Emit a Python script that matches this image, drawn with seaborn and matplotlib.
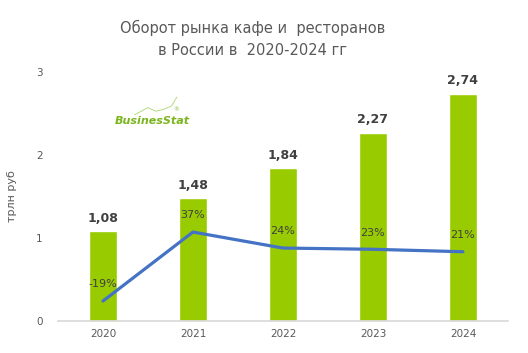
import matplotlib
matplotlib.use("Agg")
import matplotlib.pyplot as plt
import seaborn as sns
import pandas as pd
import numpy as np

years = ["2020", "2021", "2022", "2023", "2024"]
turnover = [1.08, 1.48, 1.84, 2.27, 2.74]
turnover_labels = ["1,08", "1,48", "1,84", "2,27", "2,74"]
growth = [-19, 37, 24, 23, 21]
growth_labels = ["-19%", "37%", "24%", "23%", "21%"]

sns.set_theme(style="white")
plt.rcParams['font.family'] = ['DejaVu Sans']

df = pd.DataFrame({"year": years, "turnover": turnover, "growth": growth})

fig = plt.figure(figsize=(5.28, 3.53), dpi=100)
ax = fig.add_axes([0.1098, 0.0907, 0.8522, 0.7053])

sns.barplot(data=df, x="year", y="turnover", color="#99CC00", width=0.31,
            saturation=1, ax=ax)
ax.set_ylim(0, 3)
ax.set_xlim(-0.5, 4.5)
ax.set_yticks([0, 1, 2, 3])
ax.set_yticklabels(["0", "1", "2", "3"])
ax.tick_params(axis="both", labelsize=7.5, colors="#595959", length=0)
ax.tick_params(axis="x", pad=6)
ax.tick_params(axis="y", pad=11)
ax.set_xlabel("")
ax.set_ylabel("трлн руб", fontsize=8, color="#595959", labelpad=14)
for s in ["top", "right", "left"]:
    ax.spines[s].set_visible(False)
ax.spines["bottom"].set_color("#D9D9D9")

for i, (v, lab) in enumerate(zip(turnover, turnover_labels)):
    ax.annotate(lab, (i, v), xytext=(0, 4.5), textcoords="offset points",
                ha="center", va="bottom", fontsize=9, fontweight="bold",
                color="#404040")

ax2 = ax.twinx()
sns.lineplot(x=np.arange(len(years)), y=growth, ax=ax2, color="#4472C4",
             linewidth=2.3)
ax2.set_ylim(-35.2, 166.9)
ax2.axis("off")
for i, (g, lab) in enumerate(zip(growth, growth_labels)):
    ax2.annotate(lab, (i, g), xytext=(0, 12), textcoords="offset points",
                 ha="center", va="center", fontsize=8, color="#404040")

fig.text(0.478, 0.89, "Оборот рынка кафе и  ресторанов\nв России в  2020-2024 гг",
         ha="center", va="center", fontsize=10.5, color="#595959",
         linespacing=1.55)

# logo
fig.text(0.218, 0.657, "BusinesStat", fontsize=8, fontweight="bold",
         fontstyle="italic", color="#7AB51D", ha="left", va="center")
fig.text(0.328, 0.688, "®", fontsize=4, color="#7AB51D", ha="left", va="center")
lx = np.array([0.255, 0.28, 0.295, 0.31, 0.325, 0.335])
ly = np.array([0.675, 0.695, 0.685, 0.69, 0.7, 0.725])
fig.add_artist(plt.Line2D(lx, ly, color="#A9D46F", linewidth=0.6))

fig.savefig("out.png", dpi=100)
